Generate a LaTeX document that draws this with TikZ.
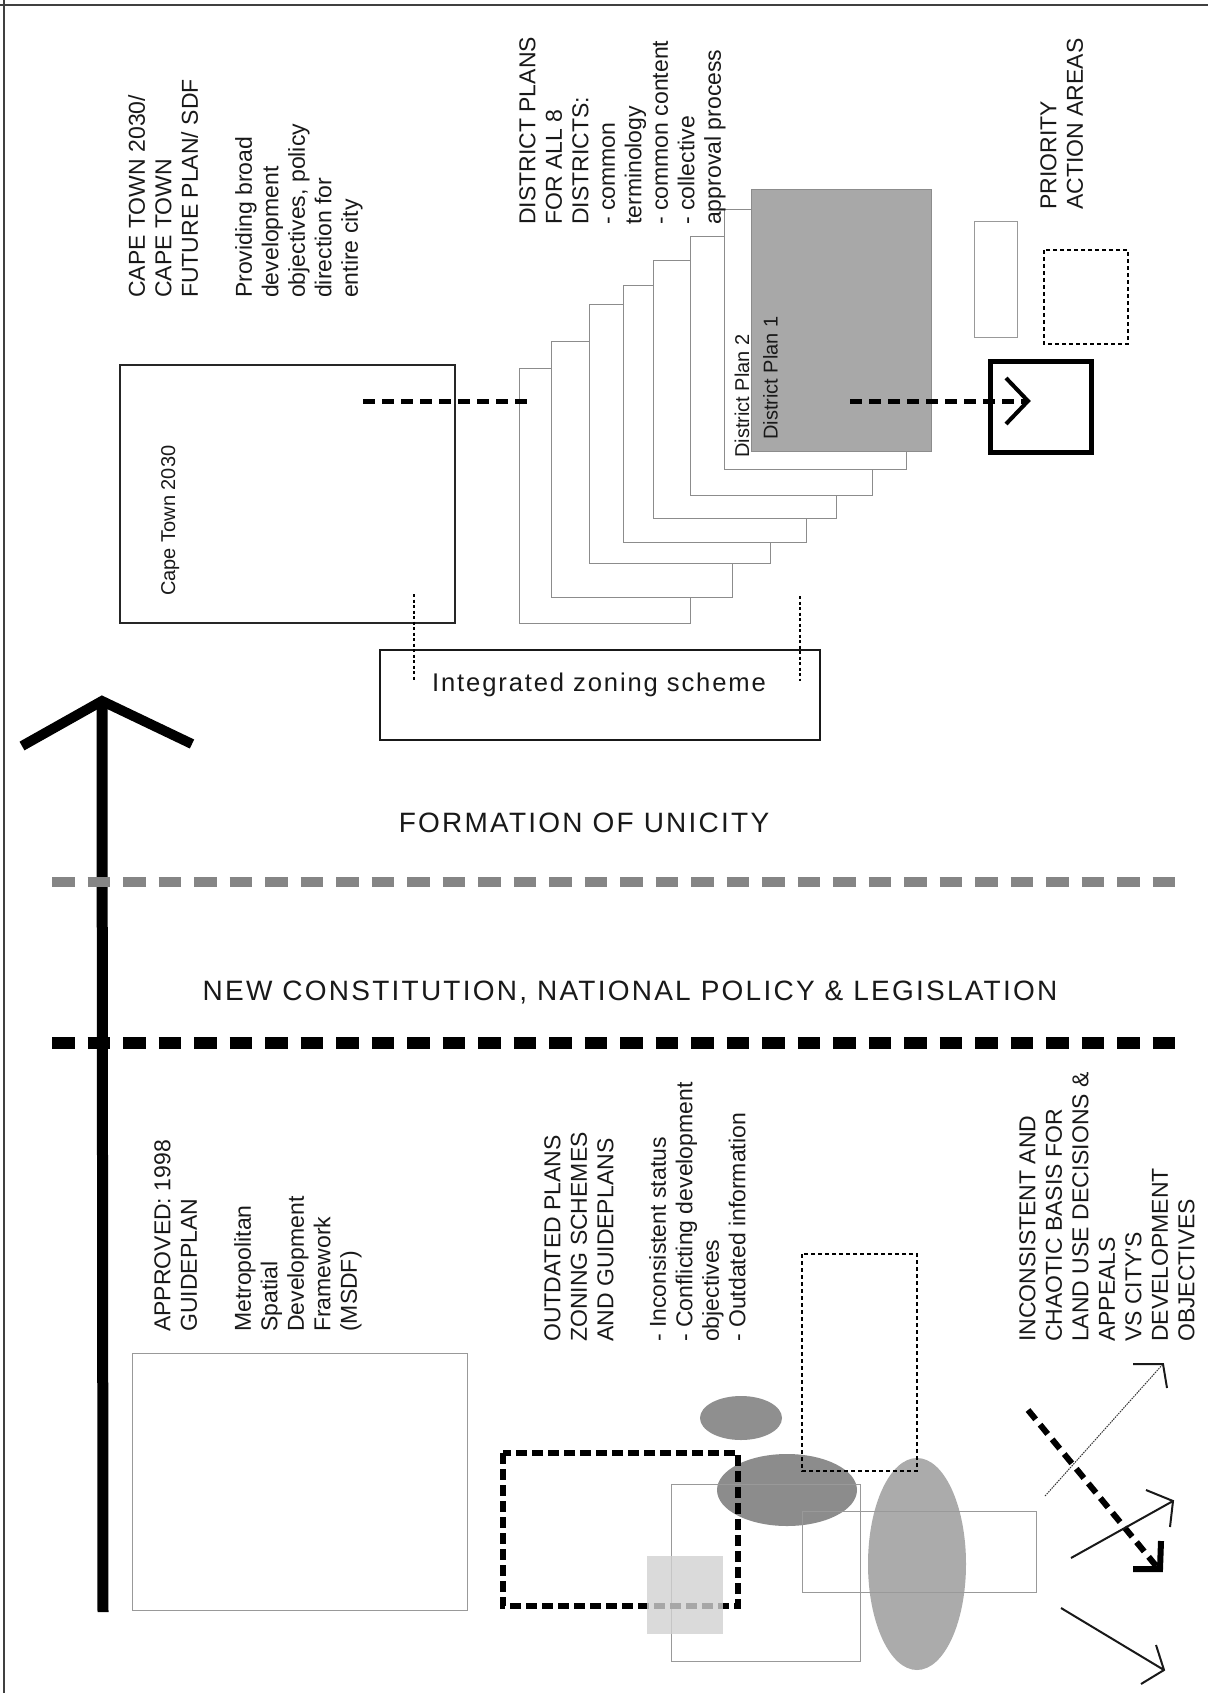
\documentclass[tikz,border=0pt]{standalone}
\usepackage{fontspec}
\newfontfamily\arial{Liberation Sans}
\begin{document}
\begin{tikzpicture}[x=1pt,y=-1pt,
  lbl/.style={rotate=90, anchor=north west, inner sep=0pt, align=left, text=black!90, font=\arial\fontsize{23}{26.5}\selectfont},
  smalllbl/.style={rotate=90, anchor=north west, inner sep=0pt, text=black!90, font=\arial\fontsize{20}{23}\selectfont},
  bigtxt/.style={inner sep=0pt, text=black!90, font=\arial\fontsize{28}{32}\selectfont\addfontfeature{LetterSpace=8}},
  midtxt/.style={inner sep=0pt, text=black!90, font=\arial\fontsize{25.6}{30}\selectfont\addfontfeature{LetterSpace=7.3}},
  framel/.style={line width=2pt, black!75},
  stackr/.style={line width=1pt, draw=black!45, fill=white},
  thinr/.style={line width=1pt, draw=black!40},
  dotr/.style={line width=2.5pt, black, dash pattern=on 4pt off 3pt},
  dotl/.style={line width=2pt, black, dash pattern=on 3pt off 2.5pt},
  thickdash/.style={line width=5pt, black, dash pattern=on 12pt off 7pt},
  graydash/.style={line width=10pt, black!48, dash pattern=on 22.5pt off 13pt},
  blackdash/.style={line width=12pt, black, dash pattern=on 22.5pt off 13pt},
  chev/.style={line width=4pt, black, line join=miter},
  solidarr/.style={line width=2pt, black!90},
]
\useasboundingbox (0,0) rectangle (1208,1693);
\fill[white] (0,0) rectangle (1208,1693);

% frame
\draw[framel] (0,5) -- (1208,5);
\draw[framel] (4,0) -- (4,1693);

% Cape Town 2030 box and texts
\draw[line width=1.5pt, black!85] (120,365) rectangle (455,623);
\node[smalllbl] (ctlabel) at (161,596) {Cape Town 2030};
\node[lbl] (cttitle) at (128,298) {CAPE TOWN 2030/\\CAPE TOWN\\FUTURE PLAN/ SDF};
\node[lbl] (ctdesc) at (235,298) {Providing broad\\development\\objectives, policy\\direction for\\entire city};

% district plan stack
\foreach \a/\b/\c/\d in {519/368/690/623, 551/341/732/597, 589/305/770/563, 623/286/806/542, 653/261/836/518, 690/237/872/495, 724/210/906/469}
  \draw[stackr] (\a,\b) rectangle (\c,\d);
\draw[line width=1pt, draw=black!45, fill=black!34] (751,190) rectangle (931,451);
\node[smalllbl] (dp2) at (734.5,458) {District Plan 2};
\node[smalllbl] (dp1) at (763,440) {District Plan 1};
\node[lbl] (dptitle) at (519,225) {DISTRICT PLANS\\FOR ALL 8\\DISTRICTS:\\- common\\terminology\\- common content\\- collective\\approval process};

% priority action areas
\node[lbl] (patitle) at (1040,210) {PRIORITY\\ACTION AREAS};
\draw[thinr] (974,222) rectangle (1017,337);
\draw[dotr] (1044,250) rectangle (1128,344);
\draw[line width=5pt, black] (990,361) rectangle (1091,452);

% dashed connectors
\coordinate (ctout) at (363,401);
\coordinate (stackin) at (534,401);
\draw[thickdash] (ctout) -- (stackin);
\coordinate (dpout) at (850,401);
\coordinate (patip) at (1026,401);
\draw[thickdash] (dpout) -- (patip);
\draw[chev] (1006,378) -- (1028,401) -- (1006,424);

% integrated zoning scheme
\draw[line width=2.5pt, black!90] (380,650) rectangle (820,740);
\node[midtxt] (izs) at (599,685) {Integrated zoning scheme};
\coordinate (izl1) at (414,594); \coordinate (izl2) at (414,681);
\coordinate (izr1) at (800,596); \coordinate (izr2) at (800,681);
\draw[dotl] (izl1) -- (izl2);
\draw[dotl] (izr1) -- (izr2);

% big time arrow
\coordinate (arrbot) at (103,1612);
\coordinate (arrtip) at (102,701);
\draw[line width=11pt, black] (arrbot) -- (arrtip);
\draw[line width=10pt, black, line join=miter] (22,746) -- (arrtip) -- (192,744);

% milestones
\node[bigtxt] (unicity) at (584,823) {FORMATION OF UNICITY};
\draw[graydash] (52,882) -- (1175,882);
\node[bigtxt] (constitution) at (630,993) {NEW CONSTITUTION, NATIONAL POLICY \& LEGISLATION};
\draw[blackdash] (52,1043) -- (1175,1043);

% MSDF
\draw[thinr] (132,1353) rectangle (467,1610);
\node[lbl] (apptitle) at (154,1332) {APPROVED: 1998\\GUIDEPLAN};
\node[lbl] (msdf) at (234,1332) {Metropolitan\\Spatial\\Development\\Framework\\(MSDF)};

% outdated plans
\node[lbl] (outtitle) at (544,1342) {OUTDATED PLANS\\ZONING SCHEMES\\AND GUIDEPLANS};
\node[lbl] (outlist) at (649,1342) {- Inconsistent status\\- Conflicting development\\objectives\\- Outdated information};

% chaotic shapes
\fill[black!44] (741,1418) ellipse [x radius=41, y radius=22];
\fill[black!45] (787,1490) ellipse [x radius=70, y radius=36];
\fill[black!33] (917,1564) ellipse [x radius=49, y radius=106];
\draw[thinr] (671,1484) rectangle (860,1661);
\draw[thinr] (802,1511) rectangle (1036,1592);
\draw[dotr] (802,1254) rectangle (917,1471);
\draw[line width=6pt, black, dash pattern=on 11pt off 5pt] (503,1453) rectangle (738,1606);
\fill[black!18, opacity=0.8] (647,1556) rectangle (723,1634);

% inconsistent basis
\node[lbl] (inctitle) at (1019,1342) {INCONSISTENT AND\\CHAOTIC BASIS FOR\\LAND USE DECISIONS \&\\APPEALS\\VS CITY'S\\DEVELOPMENT\\OBJECTIVES};

% arrows bottom right
\coordinate (a1s) at (1045,1496); \coordinate (a1t) at (1163,1364);
\draw[line width=1pt, black!80, dash pattern=on 1.5pt off 1pt] (a1s) -- (a1t);
\draw[line width=2pt, black!90, line join=miter] (1133,1364) -- (a1t) -- (1167,1388);

\coordinate (a2s) at (1028,1410); \coordinate (a2t) at (1157,1567);
\draw[thickdash, line width=6pt] (a2s) -- (a2t);
\draw[line width=6pt, black, line join=miter] (1133,1569) -- (1160,1569) -- (1161,1541);

\coordinate (a3s) at (1071,1558); \coordinate (a3t) at (1173,1501);
\draw[solidarr] (a3s) -- (a3t);
\draw[solidarr, line join=miter] (1146,1490) -- (a3t) -- (1170,1527);

\coordinate (a4s) at (1061,1608); \coordinate (a4t) at (1164,1670);
\draw[solidarr] (a4s) -- (a4t);
\draw[solidarr, line join=miter] (1156,1645) -- (a4t) -- (1141,1684);
\end{tikzpicture}
\end{document}
